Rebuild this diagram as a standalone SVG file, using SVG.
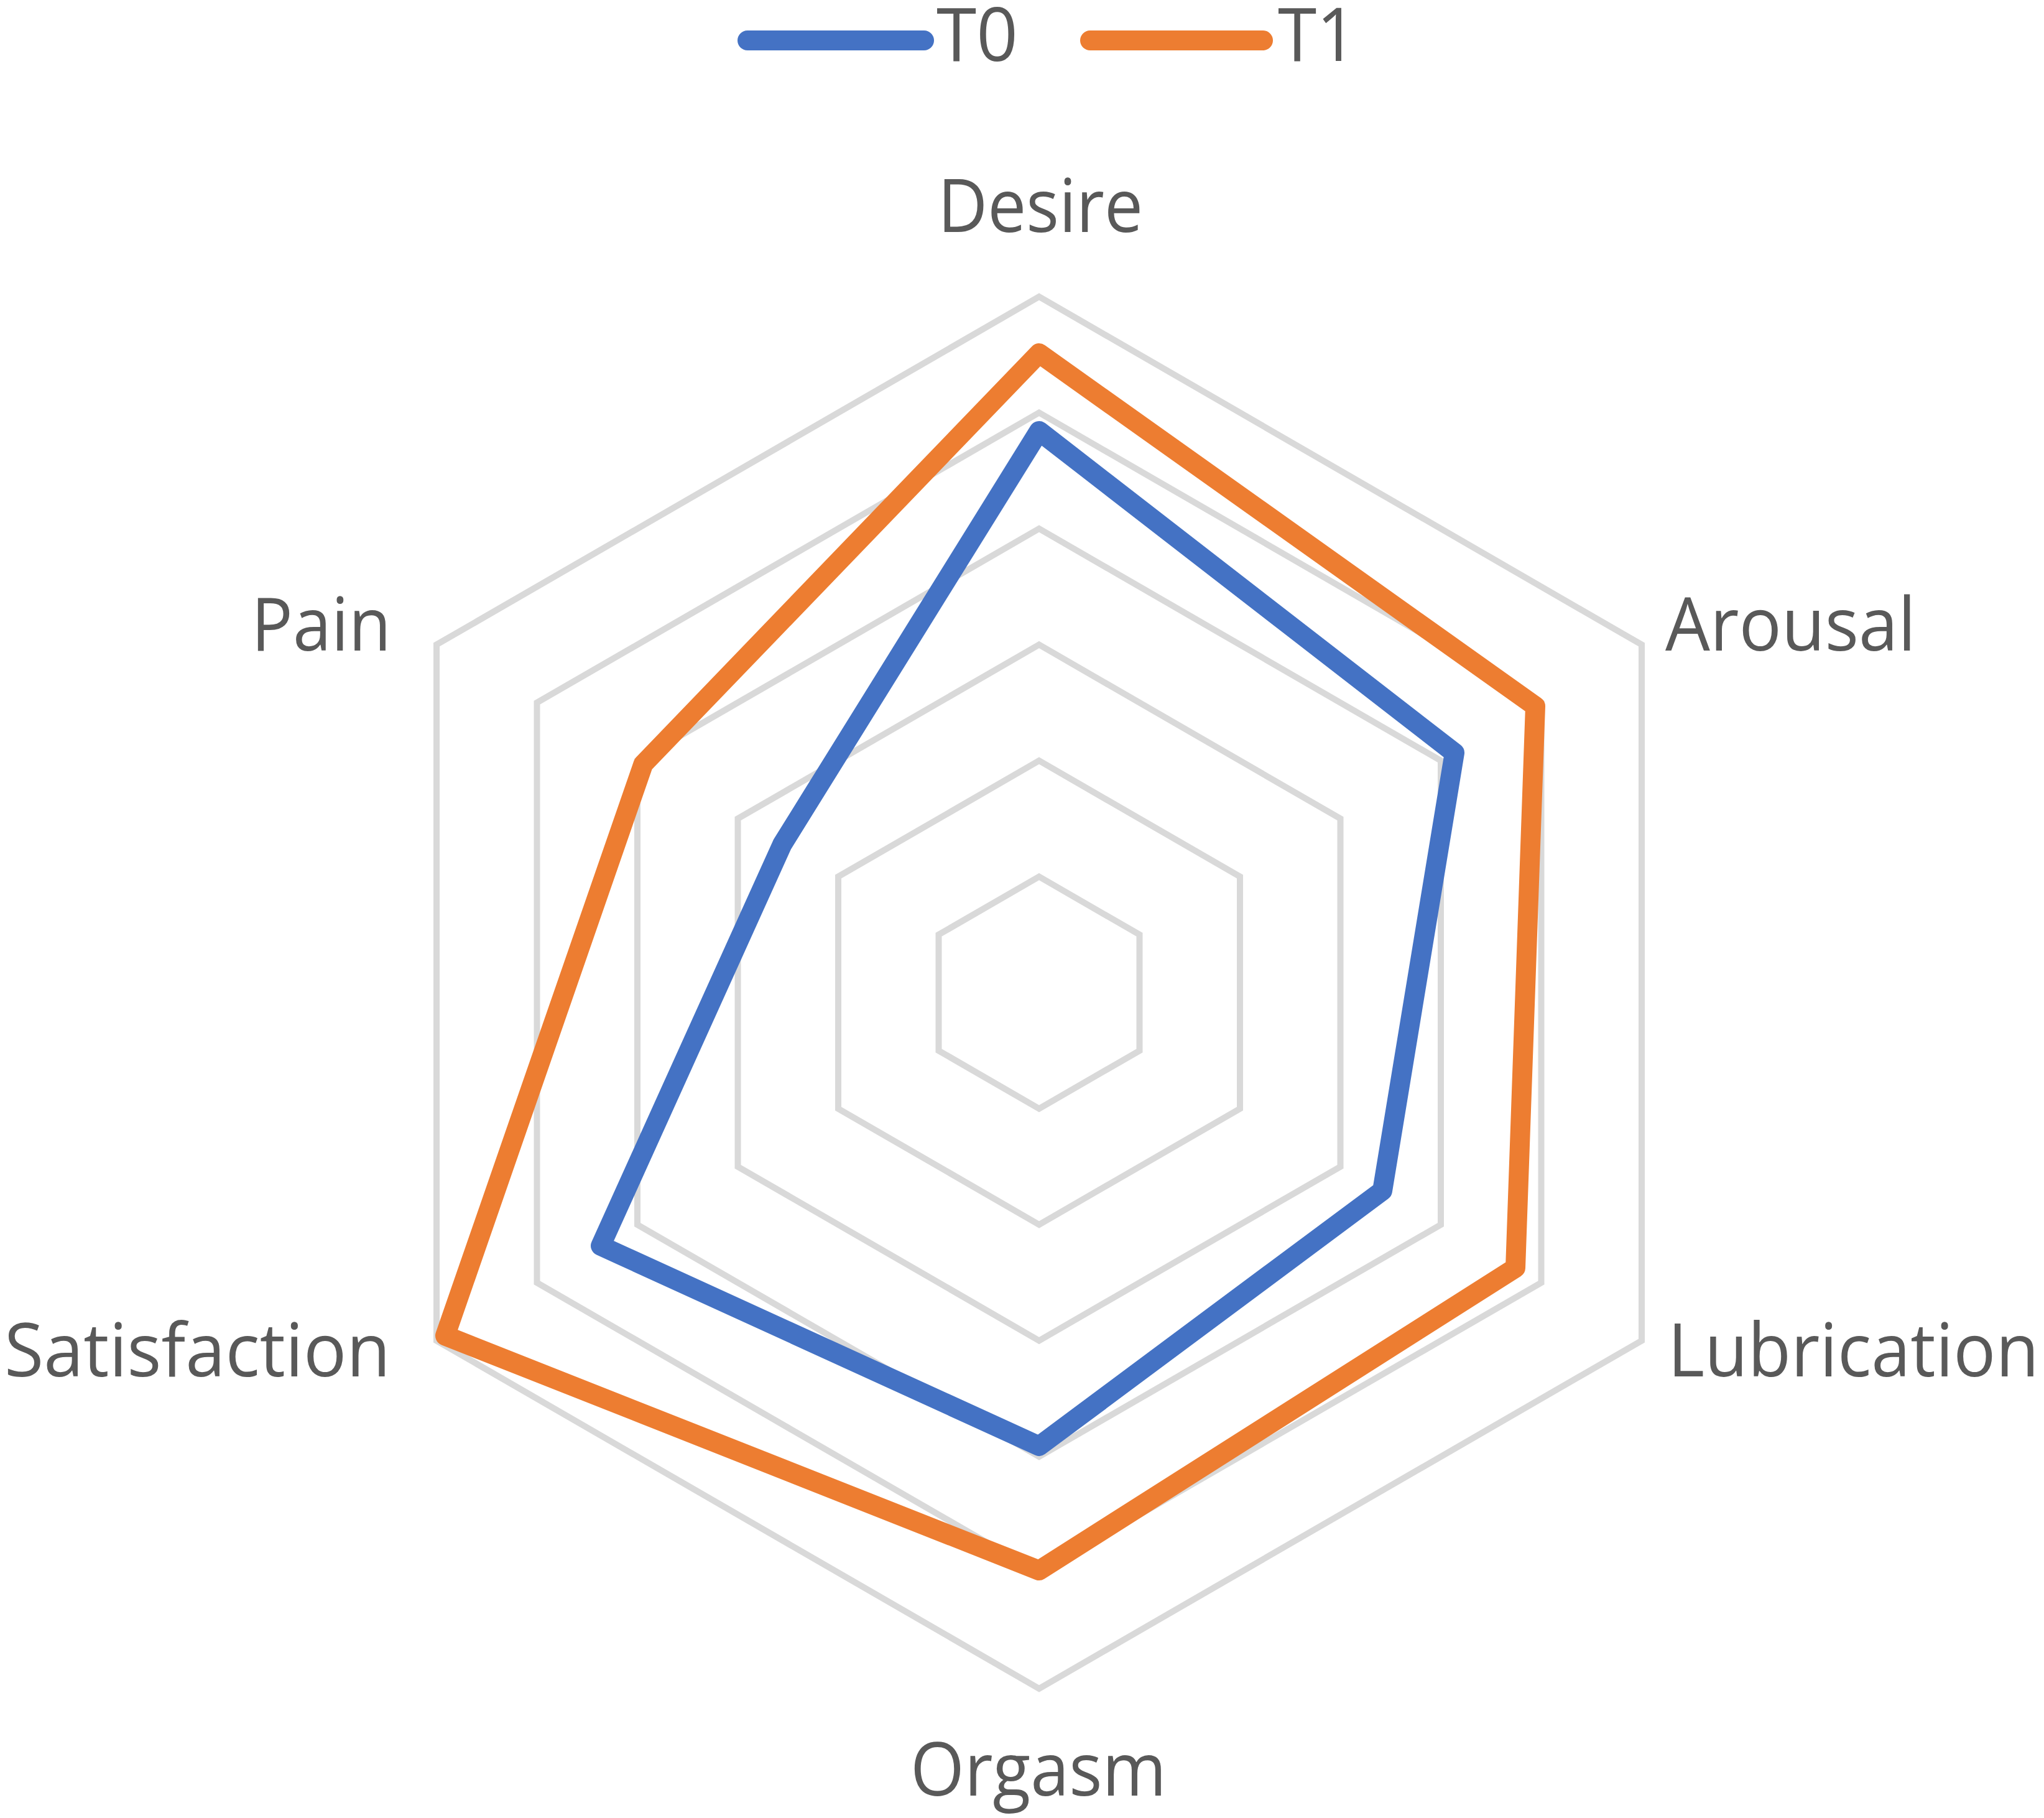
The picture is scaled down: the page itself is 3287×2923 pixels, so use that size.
<svg xmlns="http://www.w3.org/2000/svg" width="3287" height="2923" viewBox="0 0 3287 2923">
<style>
.grid{fill:none;stroke:#D9D9D9;stroke-width:10;stroke-linejoin:miter}
.s0{fill:none;stroke:#4472C4;stroke-width:32;stroke-linejoin:round;stroke-linecap:round}
.s1{fill:none;stroke:#ED7D31;stroke-width:32;stroke-linejoin:round;stroke-linecap:round}
.lbl{font-family:"Open Sans","Liberation Sans",sans-serif;font-size:119px;fill:#595959}
</style>
<rect width="3287" height="2923" fill="#FFFFFF"/>
<g id="gridlines">
<polygon class="grid" points="1671,1409.5 1832.5,1502.75 1832.5,1689.25 1671,1782.5 1509.5,1689.25 1509.5,1502.75"/>
<polygon class="grid" points="1671,1223 1994,1409.5 1994,1782.5 1671,1969 1348,1782.5 1348,1409.5"/>
<polygon class="grid" points="1671,1036.5 2155.5,1316.25 2155.5,1875.75 1671,2155.5 1186.5,1875.75 1186.5,1316.25"/>
<polygon class="grid" points="1671,850 2317,1223 2317,1969 1671,2342 1025,1969 1025,1223"/>
<polygon class="grid" points="1671,663.5 2478.5,1129.75 2478.5,2062.25 1671,2528.5 863.5,2062.25 863.5,1129.75"/>
<polygon class="grid" points="1671,477 2640,1036.5 2640,2155.5 1671,2715 702,2155.5 702,1036.5"/>
</g>
<g id="series">
<polygon id="series-T0" class="s0" points="1671,693 2339,1210.5 2223,1914.5 1671,2325 966,2003 1258,1357.5"/>
<polygon id="series-T1" class="s1" points="1671,568 2469,1135.5 2437,2038.5 1671,2525 716,2147.5 1034.5,1228.5"/>
</g>
<g id="legend">
<g id="legend-T0">
<line class="s0" x1="1202" y1="65" x2="1486" y2="65"/>
<text class="lbl" x="1506" y="98" textLength="131" lengthAdjust="spacingAndGlyphs">T0</text>
</g>
<g id="legend-T1">
<line class="s1" x1="1753" y1="65" x2="2031" y2="65"/>
<text class="lbl" x="2055" y="98" textLength="127" lengthAdjust="spacingAndGlyphs">T1</text>
</g>
</g>
<g id="axis-labels">
<text id="label-desire" class="lbl" x="1673" y="373" text-anchor="middle" textLength="330" lengthAdjust="spacingAndGlyphs">Desire</text>
<text id="label-arousal" class="lbl" x="2678" y="1046" textLength="403" lengthAdjust="spacingAndGlyphs">Arousal</text>
<text id="label-lubrication" class="lbl" x="2682" y="2213" textLength="597" lengthAdjust="spacingAndGlyphs">Lubrication</text>
<text id="label-orgasm" class="lbl" x="1670" y="2887" text-anchor="middle" textLength="412" lengthAdjust="spacingAndGlyphs">Orgasm</text>
<text id="label-satisfaction" class="lbl" x="7" y="2213" textLength="621" lengthAdjust="spacingAndGlyphs">Satisfaction</text>
<text id="label-pain" class="lbl" x="404" y="1046" textLength="225" lengthAdjust="spacingAndGlyphs">Pain</text>
</g>
</svg>
